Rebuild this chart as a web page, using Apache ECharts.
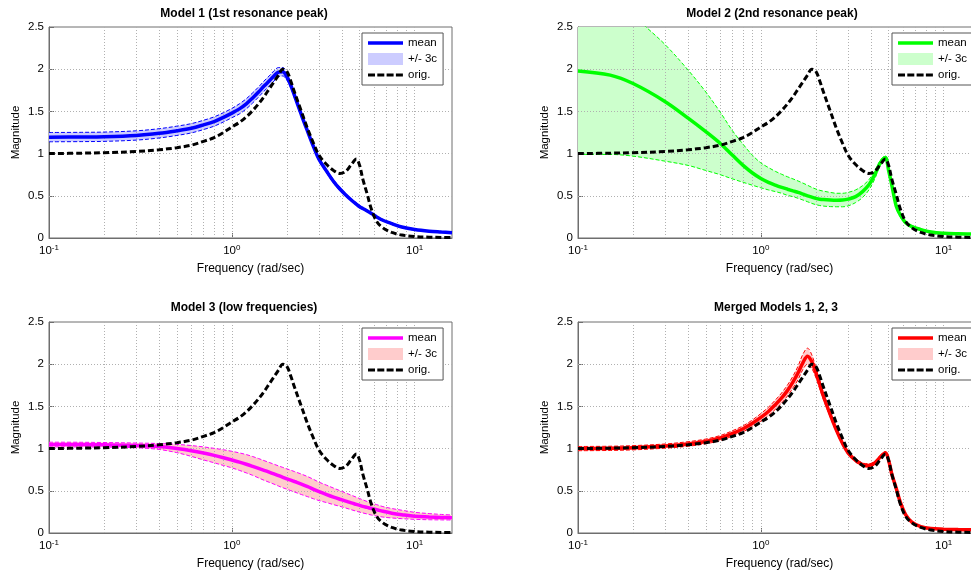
<!DOCTYPE html>
<html>
<head>
<meta charset="utf-8">
<script src="https://cdn.jsdelivr.net/npm/echarts@6/dist/echarts.min.js"></script>
<style>html,body{margin:0;padding:0;background:#fff}#c{width:971px;height:574px}</style>
</head>
<body>
<div id="c"></div>
<script>
// ---------------- data ----------------
const freq = [0.1,0.15,0.2,0.3,0.4,0.5,0.6,0.7,0.8,0.9, 1.0,1.1,1.2,1.3,1.4,1.5,1.6,1.7,1.8,1.9, 2.0,2.1,2.2,2.4,2.6,2.8,3.0,3.3,3.6,3.9, 4.2,4.5,4.8,5.0,5.2,5.5,5.8,6.2,6.7,7.5, 8.5,10,12,14,16];

const orig  = [1.00,1.005,1.01,1.025,1.045,1.07,1.10,1.145,1.19,1.25, 1.315,1.37,1.435,1.51,1.59,1.675,1.765,1.85,1.93,2.00, 1.975,1.86,1.73,1.50,1.29,1.12,0.98,0.87,0.80,0.765, 0.79,0.87,0.935,0.86,0.70,0.52,0.34,0.195,0.12,0.066, 0.035,0.017,0.01,0.007,0.005];

const mean1 = [1.195,1.197,1.20,1.215,1.24,1.27,1.30,1.34,1.38,1.43, 1.48,1.53,1.59,1.66,1.73,1.80,1.86,1.92,1.965,1.97, 1.91,1.81,1.69,1.46,1.26,1.08,0.93,0.79,0.67,0.58, 0.51,0.45,0.40,0.37,0.35,0.32,0.29,0.25,0.21,0.17, 0.13,0.10,0.08,0.07,0.062];
const hi1   = [1.25,1.252,1.255,1.27,1.295,1.325,1.355,1.395,1.435,1.485, 1.535,1.59,1.65,1.72,1.79,1.86,1.92,1.98,2.02,2.02, 1.95,1.84,1.72,1.48,1.28,1.10,0.95,0.81,0.69,0.60, 0.525,0.465,0.415,0.385,0.36,0.33,0.30,0.26,0.22,0.18, 0.14,0.107,0.086,0.075,0.067];
const lo1   = [1.14,1.142,1.145,1.16,1.185,1.215,1.245,1.285,1.325,1.375, 1.425,1.47,1.53,1.60,1.67,1.74,1.80,1.86,1.91,1.92, 1.87,1.78,1.66,1.44,1.24,1.06,0.91,0.77,0.65,0.56, 0.495,0.435,0.385,0.355,0.34,0.31,0.28,0.24,0.20,0.16, 0.12,0.093,0.074,0.065,0.057];

const mean2 = [1.98,1.93,1.83,1.615,1.42,1.26,1.12,0.98,0.86,0.77, 0.705,0.66,0.627,0.60,0.578,0.558,0.54,0.52,0.50,0.485, 0.47,0.46,0.455,0.45,0.448,0.45,0.46,0.49,0.55,0.63, 0.75,0.89,0.95,0.80,0.63,0.38,0.27,0.18,0.135,0.10, 0.072,0.057,0.05,0.047,0.045];
const hi2   = [3.45,3.0,2.65,2.29,1.99,1.73,1.49,1.27,1.11,0.98, 0.89,0.835,0.79,0.755,0.725,0.70,0.675,0.65,0.625,0.60, 0.58,0.565,0.555,0.54,0.53,0.53,0.54,0.57,0.62,0.69, 0.80,0.92,0.975,0.84,0.66,0.41,0.285,0.195,0.148,0.11, 0.08,0.063,0.055,0.051,0.049];
const lo2   = [0.99,0.99,0.97,0.91,0.86,0.80,0.75,0.70,0.66,0.625, 0.595,0.57,0.55,0.53,0.505,0.49,0.47,0.45,0.43,0.41, 0.395,0.385,0.378,0.372,0.37,0.37,0.38,0.42,0.48,0.57, 0.70,0.86,0.925,0.78,0.60,0.36,0.245,0.168,0.124,0.09, 0.065,0.051,0.045,0.043,0.041];

const mean3 = [1.05,1.048,1.045,1.038,1.025,1.0,0.975,0.948,0.92,0.892, 0.865,0.84,0.815,0.79,0.766,0.743,0.721,0.70,0.68,0.66, 0.642,0.626,0.61,0.58,0.55,0.518,0.49,0.455,0.425,0.40, 0.378,0.357,0.339,0.327,0.316,0.303,0.29,0.275,0.257,0.235, 0.217,0.198,0.19,0.185,0.182];
const hi3   = [1.076,1.075,1.072,1.066,1.06,1.05,1.036,1.02,1.003,0.986, 0.968,0.949,0.929,0.906,0.882,0.858,0.836,0.815,0.795,0.777, 0.76,0.744,0.728,0.698,0.668,0.635,0.602,0.566,0.532,0.502, 0.474,0.448,0.424,0.408,0.393,0.373,0.356,0.336,0.313,0.29, 0.27,0.245,0.23,0.22,0.213];
const lo3   = [1.02,1.02,1.018,1.01,0.99,0.952,0.908,0.866,0.832,0.80, 0.772,0.742,0.712,0.683,0.653,0.625,0.601,0.579,0.556,0.536, 0.519,0.502,0.486,0.456,0.43,0.405,0.384,0.36,0.336,0.316, 0.296,0.276,0.258,0.247,0.238,0.225,0.213,0.201,0.189,0.178, 0.17,0.162,0.157,0.155,0.154];

const mean4 = [1.0,1.003,1.01,1.03,1.055,1.085,1.125,1.18,1.235,1.30, 1.37,1.44,1.52,1.60,1.69,1.79,1.90,2.02,2.095,2.03, 1.90,1.76,1.62,1.40,1.21,1.06,0.95,0.86,0.81,0.80, 0.83,0.90,0.95,0.86,0.70,0.53,0.36,0.215,0.13,0.075, 0.052,0.045,0.04,0.038,0.037];
const hi4   = [1.025,1.028,1.035,1.055,1.082,1.113,1.155,1.212,1.27,1.34, 1.415,1.49,1.575,1.66,1.755,1.86,1.98,2.12,2.19,2.11, 1.96,1.81,1.66,1.43,1.235,1.08,0.97,0.88,0.83,0.82, 0.85,0.92,0.965,0.875,0.71,0.54,0.37,0.223,0.137,0.08, 0.056,0.049,0.044,0.042,0.041];
const lo4   = [0.975,0.978,0.985,1.005,1.028,1.057,1.095,1.148,1.20,1.26, 1.325,1.39,1.465,1.54,1.625,1.72,1.82,1.94,2.0,1.95, 1.84,1.71,1.58,1.37,1.185,1.04,0.93,0.84,0.79,0.78, 0.81,0.88,0.935,0.845,0.69,0.52,0.35,0.207,0.123,0.07, 0.048,0.041,0.036,0.034,0.033];

const titles = ['Model 1 (1st resonance peak)', 'Model 2 (2nd resonance peak)', 'Model 3 (low frequencies)', 'Merged Models 1, 2, 3'];
const gridX = [0.2,0.3,0.4,0.5,0.6,0.7,0.8,0.9,1,2,3,4,5,6,7,8,9,10];
const gridY = [0.5,1,1.5,2];
const legendText = {mean: 'mean', band: '+/- 3c', orig: 'orig.'};
const xName = 'Frequency (rad/sec)';
const yName = 'Magnitude';

// ---------------- layout / style ----------------
const FONT = '"Liberation Sans", Arial, Helvetica, sans-serif';
const panels = [
  {left: 49,  top: 27,  titleX: 244, titleY: 8,   legX: 362, legY: 33,  color: '#0000ff', fill: '#ccccff', mean: mean1, hi: hi1, lo: lo1},
  {left: 578, top: 27,  titleX: 772, titleY: 8,   legX: 892, legY: 33,  color: '#00ff00', fill: '#ccffcc', mean: mean2, hi: hi2, lo: lo2},
  {left: 49,  top: 322, titleX: 244, titleY: 302, legX: 362, legY: 328, color: '#ff00ff', fill: '#ffcccc', mean: mean3, hi: hi3, lo: lo3},
  {left: 578, top: 322, titleX: 776, titleY: 302, legX: 892, legY: 328, color: '#ff0000', fill: '#ffcccc', mean: mean4, hi: hi4, lo: lo4}
];
const AX = '#6e6e6e';
const SMOOTH = 0.35;
const meanIcon = 'path://M0,0M35,12M0,4.3L35,4.3L35,7.7L0,7.7Z';
const dashIcon = 'path://M0,0M35,12M0,4.5h7v3h-7zM9.3,4.5h7v3h-7zM18.6,4.5h7v3h-7zM27.9,4.5h7v3h-7z';

const pairs = arr => freq.map((f, k) => [f, arr[k]]);

const chart = echarts.init(document.getElementById('c'), null, {renderer: 'canvas'});
const option = {
  animation: false, backgroundColor: '#fff', textStyle: {fontFamily: FONT},
  title: [], grid: [], xAxis: [], yAxis: [], legend: [], series: []
};

panels.forEach((P, i) => {
  option.title.push({
    text: titles[i], left: P.titleX, top: P.titleY, textAlign: 'center', padding: 0,
    textStyle: {fontSize: 12, fontWeight: 'bold', color: '#000', fontFamily: FONT}
  });
  option.grid.push({
    left: P.left, top: P.top, width: 403, height: 211, show: true,
    borderColor: AX, borderWidth: 1, backgroundColor: 'rgba(0,0,0,0)',
    containLabel: false, outerBoundsMode: 'none'
  });
  option.xAxis.push({
    type: 'log', logBase: 10, gridIndex: i, min: 0.1, max: 16,
    name: xName, nameLocation: 'middle', nameGap: 25,
    nameTextStyle: {fontSize: 12, color: '#000', fontFamily: FONT},
    axisLine: {show: true, lineStyle: {color: AX, width: 1}},
    axisTick: {show: true, inside: true, length: 5, lineStyle: {color: AX}},
    splitLine: {show: false}, minorTick: {show: false},
    axisLabel: {
      margin: 6, color: '#000', showMaxLabel: false,
      formatter: v => {
        const e = Math.round(Math.log10(v));
        if (Math.abs(v - Math.pow(10, e)) > 1e-9 * v) return '';
        return '{b|10}{s|' + e + '}';
      },
      rich: {
        b: {fontSize: 11.5, lineHeight: 13, padding: [4, 0, 0, 0], verticalAlign: 'bottom', color: '#000', fontFamily: FONT},
        s: {fontSize: 8, lineHeight: 9, verticalAlign: 'top', color: '#000', fontFamily: FONT}
      }
    }
  });
  option.yAxis.push({
    type: 'value', gridIndex: i, min: 0, max: 2.5, interval: 0.5,
    name: yName, nameLocation: 'middle', nameGap: 27,
    nameTextStyle: {fontSize: 11.5, color: '#000', fontFamily: FONT},
    axisLine: {show: true, lineStyle: {color: AX, width: 1}},
    axisTick: {show: true, inside: true, length: 5, lineStyle: {color: AX}},
    splitLine: {show: false},
    axisLabel: {margin: 5, fontSize: 11.5, color: '#000', fontFamily: FONT}
  });
  option.legend.push({
    left: P.legX, top: P.legY, orient: 'vertical', z: 10,
    padding: [4, 6, 4, 6], itemGap: 4, itemWidth: 35, itemHeight: 12,
    borderColor: '#555', borderWidth: 1, borderRadius: 0, backgroundColor: '#fff',
    selectedMode: false,
    textStyle: {fontSize: 11.5, color: '#000', fontFamily: FONT, lineHeight: 12},
    formatter: name => legendText[name.replace(/\d+$/, '')],
    data: [
      {name: 'mean' + i, icon: meanIcon, itemStyle: {color: P.color, borderWidth: 0}},
      {name: 'band' + i, icon: 'rect', itemStyle: {color: P.fill, borderWidth: 0}},
      {name: 'orig' + i, icon: dashIcon, itemStyle: {color: '#000', borderWidth: 0}}
    ]
  });

  // band fill (polygon between lo and hi through the axes' scales)
  option.series.push({
    type: 'custom', name: 'band' + i, xAxisIndex: i, yAxisIndex: i, z: 2, silent: true,
    data: freq.map((f, k) => [f, P.lo[k], P.hi[k]]),
    encode: {x: 0, y: [1, 2]},
    itemStyle: {color: P.fill},
    renderItem: (params, api) => {
      if (params.dataIndex !== 0) return null;
      const n = params.dataInsideLength;
      const pts = [];
      for (let j = 0; j < n; j++) pts.push(api.coord([api.value(0, j), api.value(2, j)]));
      for (let j = n - 1; j >= 0; j--) pts.push(api.coord([api.value(0, j), api.value(1, j)]));
      const cs = params.coordSys;
      return {
        type: 'polygon', shape: {points: pts}, style: {fill: P.fill},
        clipPath: {type: 'rect', shape: {x: cs.x, y: cs.y, width: cs.width, height: cs.height}}
      };
    }
  });
  // grid lines (dotted, drawn over fills)
  option.series.push({
    type: 'line', name: 'grid' + i, xAxisIndex: i, yAxisIndex: i, data: [], silent: true,
    markLine: {
      silent: true, z: 3, symbol: ['none', 'none'], label: {show: false}, animation: false,
      lineStyle: {color: '#b0b0b0', width: 1, type: [1, 2]},
      emphasis: {disabled: true},
      data: gridX.map(v => ({xAxis: v})).concat(gridY.map(v => ({yAxis: v})))
    }
  });
  // band edges
  ['hi', 'lo'].forEach(key => {
    option.series.push({
      type: 'line', name: key + i, xAxisIndex: i, yAxisIndex: i, z: 4, silent: true,
      data: pairs(P[key]), symbol: 'none', smooth: SMOOTH,
      lineStyle: {color: P.color, width: 1, type: [4, 2]}
    });
  });
  // mean
  option.series.push({
    type: 'line', name: 'mean' + i, xAxisIndex: i, yAxisIndex: i, z: 5, silent: true,
    data: pairs(P.mean), symbol: 'none', smooth: SMOOTH,
    itemStyle: {color: P.color},
    lineStyle: {color: P.color, width: 3.5}
  });
  // original
  option.series.push({
    type: 'line', name: 'orig' + i, xAxisIndex: i, yAxisIndex: i, z: 6, silent: true,
    data: pairs(orig), symbol: 'none', smooth: SMOOTH,
    itemStyle: {color: '#000'},
    lineStyle: {color: '#000', width: 3, type: [6, 3]}
  });
});

chart.setOption(option);
</script>
</body>
</html>
